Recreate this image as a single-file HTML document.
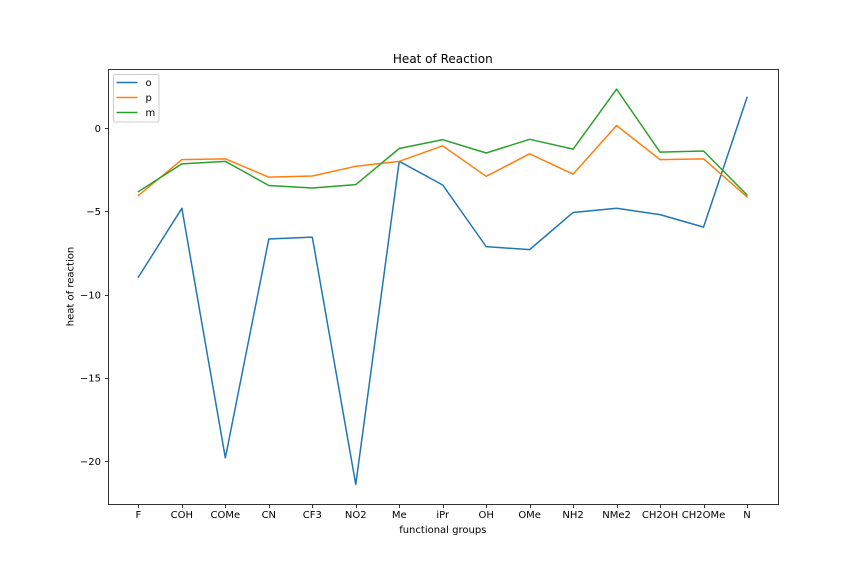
<!DOCTYPE html>
<html>
<head>
<meta charset="utf-8">
<title>Heat of Reaction</title>
<style>
html,body{margin:0;padding:0;background:#fff}
svg{display:block}
text{font-family:"DejaVu Sans",sans-serif;fill:#000}
</style>
</head>
<body>
<svg id="chart" xmlns="http://www.w3.org/2000/svg" width="864" height="576" viewBox="0 0 864 576">
<rect x="0" y="0" width="864" height="576" fill="#fff"/>
</svg>
<script>
const categories = ["F","COH","COMe","CN","CF3","NO2","Me","iPr","OH","OMe","NH2","NMe2","CH2OH","CH2OMe","N"];
const seriesO = [-8.95,-4.82,-19.8,-6.66,-6.55,-21.4,-2.0,-3.42,-7.12,-7.3,-5.07,-4.82,-5.2,-5.95,1.83];
const seriesP = [-4.05,-1.9,-1.85,-2.95,-2.88,-2.3,-2.0,-1.07,-2.9,-1.55,-2.77,0.15,-1.9,-1.85,-4.13];
const seriesM = [-3.82,-2.15,-2.0,-3.45,-3.6,-3.4,-1.23,-0.7,-1.5,-0.68,-1.27,2.33,-1.45,-1.38,-4.02];
const yTicks = [0,-5,-10,-15,-20];

const NS = "http://www.w3.org/2000/svg";
const svg = document.getElementById("chart");
const axL = 108.5, axR = 778.5, axT = 69.5, axB = 504.5;
const xStep = (747 - 138.4) / (categories.length - 1);
function xScale(i){ return 138.4 + i * xStep; }
function yScale(v){ return 128 - v * 16.66; }
function make(tag, attrs, text){
  const el = document.createElementNS(NS, tag);
  for (const k in attrs) el.setAttribute(k, attrs[k]);
  if (text !== undefined) el.textContent = text;
  return el;
}

// series lines
const seriesList = [
  {key:"o", color:"#1f77b4", values:seriesO},
  {key:"p", color:"#ff7f0e", values:seriesP},
  {key:"m", color:"#2ca02c", values:seriesM}
];
seriesList.forEach(function(s){
  const pts = s.values.map(function(v,i){ return xScale(i).toFixed(2)+","+yScale(v).toFixed(2); }).join(" ");
  const line = make("polyline",{points:pts,fill:"none",stroke:s.color,"stroke-width":1.5,"stroke-linejoin":"round","stroke-linecap":"square"});
  
  
  svg.appendChild(line);
});

// axes frame
const frame = make("rect",{x:axL,y:axT,width:axR-axL,height:axB-axT,fill:"none",stroke:"#333","stroke-width":1});


svg.appendChild(frame);

// x ticks
categories.forEach(function(c,i){
  const x = Math.round(xScale(i)) + 0.5;
  const t = make("line",{x1:x,x2:x,y1:axB,y2:axB+3.5,stroke:"#333","stroke-width":1});
  
  
  svg.appendChild(t);
  const l = make("text",{x:xScale(i),y:518,"text-anchor":"middle","font-size":10},c);
  
  
  svg.appendChild(l);
});

// y ticks
yTicks.forEach(function(v){
  const y = Math.round(yScale(v)) + 0.5;
  const t = make("line",{x1:axL-3.5,x2:axL,y1:y,y2:y,stroke:"#333","stroke-width":1});
  
  
  svg.appendChild(t);
  const label = v < 0 ? "\u2212" + Math.abs(v) : String(v);
  const l = make("text",{x:axL-7.5,y:yScale(v)+3.8,"text-anchor":"end","font-size":10},label);
  
  
  svg.appendChild(l);
});

// titles
const title = make("text",{x:442.8,y:63,"text-anchor":"middle","font-size":12},"Heat of Reaction");


svg.appendChild(title);

const xTitle = make("text",{x:442.8,y:533,"text-anchor":"middle","font-size":10},"functional groups");


svg.appendChild(xTitle);

const yTitle = make("text",{x:0,y:0,"text-anchor":"middle","font-size":10,transform:"translate(73.5 286.5) rotate(-90)"},"heat of reaction");


svg.appendChild(yTitle);

// legend
const legend = make("rect",{x:113.5,y:74.5,width:45.5,height:47.5,rx:2,ry:2,fill:"#fff","fill-opacity":0.8,stroke:"#ccc","stroke-width":1});


svg.appendChild(legend);
seriesList.forEach(function(s,i){
  const y = 82.5 + i * 15;
  const h = make("line",{x1:116.5,x2:137.5,y1:y,y2:y,stroke:s.color,"stroke-width":1.5});
  
  
  svg.appendChild(h);
  const l = make("text",{x:145.5,y:y+3.5,"font-size":10},s.key);
  
  
  svg.appendChild(l);
});
</script>
</body>
</html>
